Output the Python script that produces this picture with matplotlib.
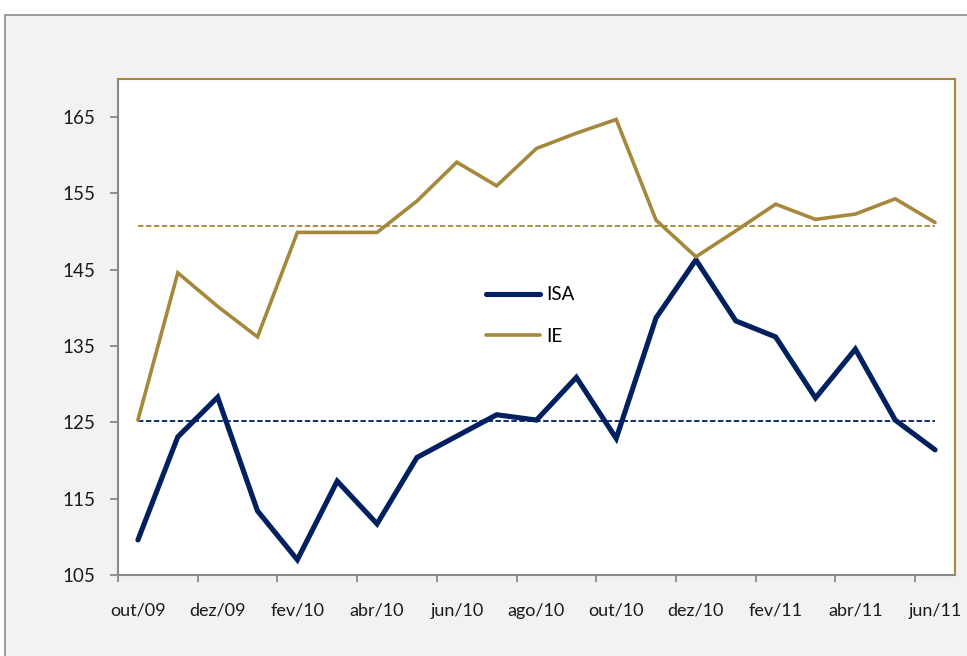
import numpy as np
import matplotlib.pyplot as plt
from matplotlib.patches import Rectangle

months = ['out/09', 'nov/09', 'dez/09', 'jan/10', 'fev/10', 'mar/10', 'abr/10',
          'mai/10', 'jun/10', 'jul/10', 'ago/10', 'set/10', 'out/10', 'nov/10',
          'dez/10', 'jan/11', 'fev/11', 'mar/11', 'abr/11', 'mai/11', 'jun/11']

isa = [109.6, 123.1, 128.3, 113.4, 107.0, 117.3, 111.7, 120.4, 123.2, 126.0,
       125.3, 130.9, 122.9, 138.7, 146.3, 138.3, 136.2, 128.2, 134.6, 125.3, 121.4]

ie = [125.3, 144.6, 140.2, 136.2, 149.9, 149.9, 149.9, 154.0, 159.1, 156.0,
      160.9, 162.9, 164.7, 151.5, 146.7, 150.1, 153.6, 151.6, 152.3, 154.3, 151.2]

yticks = [105, 115, 125, 135, 145, 155, 165]

navy = '#002060'
gold = '#A6883C'
grey = '#898989'

plt.rcParams['font.family'] = ['Lato', 'DejaVu Sans']

fig = plt.figure(figsize=(9.67, 6.56), dpi=100)
fig.patch.set_facecolor('white')
# light grey chart area with grey frame (runs off the right/bottom edges)
fig.patches.append(Rectangle((5 / 967, -0.1), 1.2, 1.1 - 15 / 656,
                             transform=fig.transFigure, facecolor='#F2F2F2',
                             edgecolor='#8C8C8C', linewidth=1.2, zorder=-1))

ax = fig.add_axes([118 / 967, 1 - 575 / 656, (955 - 118) / 967, (575 - 79) / 656])
ax.set_facecolor('white')

x = np.arange(len(months))
# dashed average lines
ax.plot(x, [np.mean(isa)] * len(x), color=navy, lw=1.3, ls=(0, (3.0, 1.4)))
ax.plot(x, [np.mean(ie)] * len(x), color=gold, lw=1.3, ls=(0, (3.0, 1.4)))
l1, = ax.plot(x, isa, color=navy, lw=3.7, solid_joinstyle='miter',
              solid_capstyle='round', label='ISA')
l2, = ax.plot(x, ie, color=gold, lw=2.6, solid_joinstyle='miter',
              solid_capstyle='round', label='IE')

ax.set_xlim(-0.5, len(months) - 0.5)
ax.set_ylim(105, 170)
ax.set_yticks(yticks)
ax.set_xticks(x[::2])
ax.set_xticklabels(months[::2])
ax.set_xticks(np.arange(-0.5, len(months) - 1, 2), minor=True)

ax.tick_params(axis='x', which='major', length=0, pad=20, labelsize=13,
               labelcolor='#1a1a1a')
ax.tick_params(axis='x', which='minor', length=5, width=1.3, color=grey,
               direction='out')
ax.tick_params(axis='y', length=5.5, width=1.3, color=grey, pad=11,
               labelsize=13.5, labelcolor='#1a1a1a')

for s in ['left', 'bottom']:
    ax.spines[s].set_color(grey)
    ax.spines[s].set_linewidth(1.5)
for s in ['top', 'right']:
    ax.spines[s].set_color(gold)
    ax.spines[s].set_linewidth(1.5)

ax.legend(handles=[l1, l2], loc='upper left',
          bbox_to_anchor=(477 / 967, 1 - 277 / 656),
          bbox_transform=fig.transFigure, frameon=False, fontsize=13.5,
          handlelength=2.85, handletextpad=0.37, labelspacing=1.3, borderpad=0)

fig.savefig('out.png', dpi=100)
